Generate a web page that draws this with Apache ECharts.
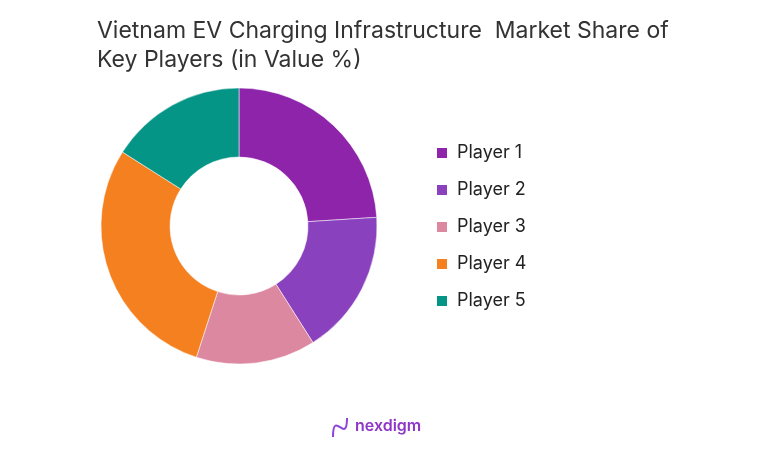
<!DOCTYPE html>
<html>
<head>
<meta charset="utf-8">
<script src="https://cdn.jsdelivr.net/npm/echarts@6/dist/echarts.min.js"></script>
<style>
  html, body { margin: 0; padding: 0; background: #fff; }
  #chart { width: 762px; height: 449px; }
</style>
</head>
<body>
<div id="chart"></div>
<script>
// Data
const players = ['Player 1', 'Player 2', 'Player 3', 'Player 4', 'Player 5'];
const shares = [24, 17, 14, 29, 16];
const colors = ['#8e24aa', '#8a41bd', '#dc88a0', '#f48020', '#049587'];
const titleLines = ['Vietnam EV Charging Infrastructure  Market Share of', 'Key Players (in Value %)'];

const chart = echarts.init(document.getElementById('chart'), null, { renderer: 'canvas' });

chart.setOption({
  animation: false,
  color: colors,
  title: {
    text: titleLines.join('\n'),
    left: 97,
    top: 17,
    padding: 0,
    textStyle: { fontFamily: 'Inter', fontSize: 23, fontWeight: 400, color: '#333', lineHeight: 29 }
  },
  legend: {
    orient: 'vertical',
    left: 435,
    top: 144,
    padding: 0,
    itemWidth: 12,
    itemHeight: 12,
    itemGap: 19,
    icon: 'rect',
    textStyle: { fontFamily: 'Inter', fontSize: 18, color: '#222', padding: [0, 0, 0, 4] },
    data: players
  },
  series: [{
    type: 'pie',
    center: [239, 226],
    radius: [69, 138],
    startAngle: 90,
    clockwise: true,
    label: { show: false },
    labelLine: { show: false },
    itemStyle: { borderColor: '#fff', borderWidth: 0.5 },
    emphasis: { disabled: true },
    data: players.map((p, i) => ({ name: p, value: shares[i] }))
  }],
  graphic: [
    {
      type: 'bezierCurve',
      shape: { x1: 333, y1: 437, cpx1: 333, cpy1: 408, cpx2: 347, cpy2: 446, x2: 347, y2: 418 },
      style: { fill: 'none', stroke: '#8e44d8', lineWidth: 2 }
    },
    {
      type: 'text',
      left: 355,
      top: 418,
      style: { text: 'nexdigm', fontFamily: 'Inter', fontSize: 16, fontWeight: 600, fill: '#8e36c8' }
    }
  ]
});
</script>
</body>
</html>
